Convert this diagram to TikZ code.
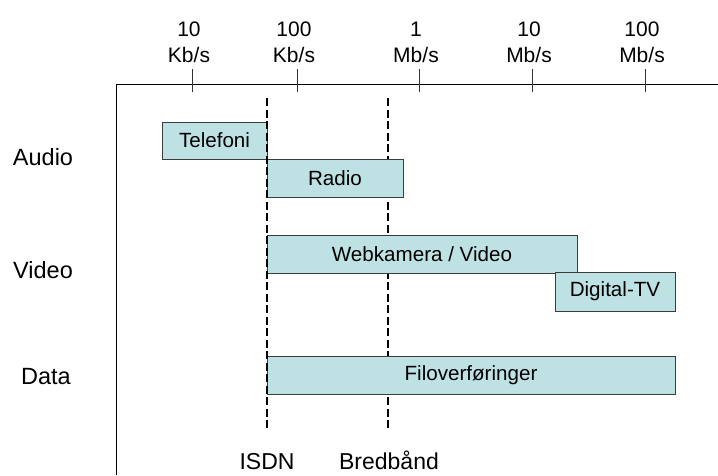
\documentclass[tikz,border=0pt]{standalone}
\usepackage{fontspec}
\setmainfont{Liberation Sans}
\definecolor{boxfill}{RGB}{190,225,228}
\definecolor{boxline}{RGB}{60,60,60}
\begin{document}
\begin{tikzpicture}[x=1pt,y=-1pt,
  font=\fontsize{20.5}{26}\selectfont,
  bar/.style={draw=boxline, fill=boxfill, line width=1pt, inner sep=0pt, minimum height=38pt, font=\fontsize{20.6}{24}\selectfont},
  ratelabel/.style={align=center, inner sep=0pt, font=\fontsize{21}{26}\selectfont},
  catlabel/.style={inner sep=0pt, font=\fontsize{23.5}{28}\selectfont},
  botlabel/.style={inner sep=0pt, anchor=base, font=\fontsize{23}{28}\selectfont},
  tickline/.style={line width=1pt, draw=black!80},
  dashline/.style={line width=2.5pt, dash pattern=on 8pt off 3.5pt},
  axisline/.style={line width=1pt}]
\useasboundingbox (0,0) rectangle (718,475);
% axes
\coordinate (axBot) at (116,475);
\coordinate (axCorner) at (116,84);
\coordinate (axRight) at (718,84);
\draw[axisline] (axBot) -- (axCorner) -- (axRight);
% ticks and rate labels
\foreach \x/\n/\t in {192/a/{10\\Kb/s},297/b/{100\\Kb/s},419/c/{1\\Mb/s},532/d/{10\\Mb/s},645/e/{100\\Mb/s}}{
  \coordinate (tickTop\n) at (\x,69);
  \coordinate (tickBot\n) at (\x,92);
  \draw[tickline] (tickTop\n) -- (tickBot\n);
  \node[ratelabel] (rate\n) at (\x-3,42) {\t};
}
% dashed lines (Bredbånd behind the bars)
\coordinate (bbTop) at (388,98);
\coordinate (bbBot) at (388,431);
\draw[dashline] (bbTop) -- (bbBot);
% bars
\node[bar, minimum width=105pt, minimum height=37pt] (telefoni) at (214.5,140.5) {Telefoni};
\node[bar, minimum width=136pt] (radio) at (335,178) {Radio};
\node[bar, minimum width=310pt] (webkam) at (422,254) {Webkamera / Video};
\node[bar, minimum width=120pt, minimum height=39pt] (dtv) at (615,291.5) {Digital-TV};
\node[bar, minimum width=408pt] (filo) at (471,375) {Filoverføringer};
% ISDN line on top
\coordinate (isdnTop) at (267,98);
\coordinate (isdnBot) at (267,429);
\draw[dashline] (isdnTop) -- (isdnBot);
% category labels
\node[catlabel] (audio) at (43,157) {Audio};
\node[catlabel] (video) at (43,270) {Video};
\node[catlabel] (data) at (46,377) {Data};
% bottom labels
\node[botlabel] (isdn) at (267,469) {ISDN};
\node[botlabel] (bredband) at (389,469) {Bredbånd};
\end{tikzpicture}
\end{document}
